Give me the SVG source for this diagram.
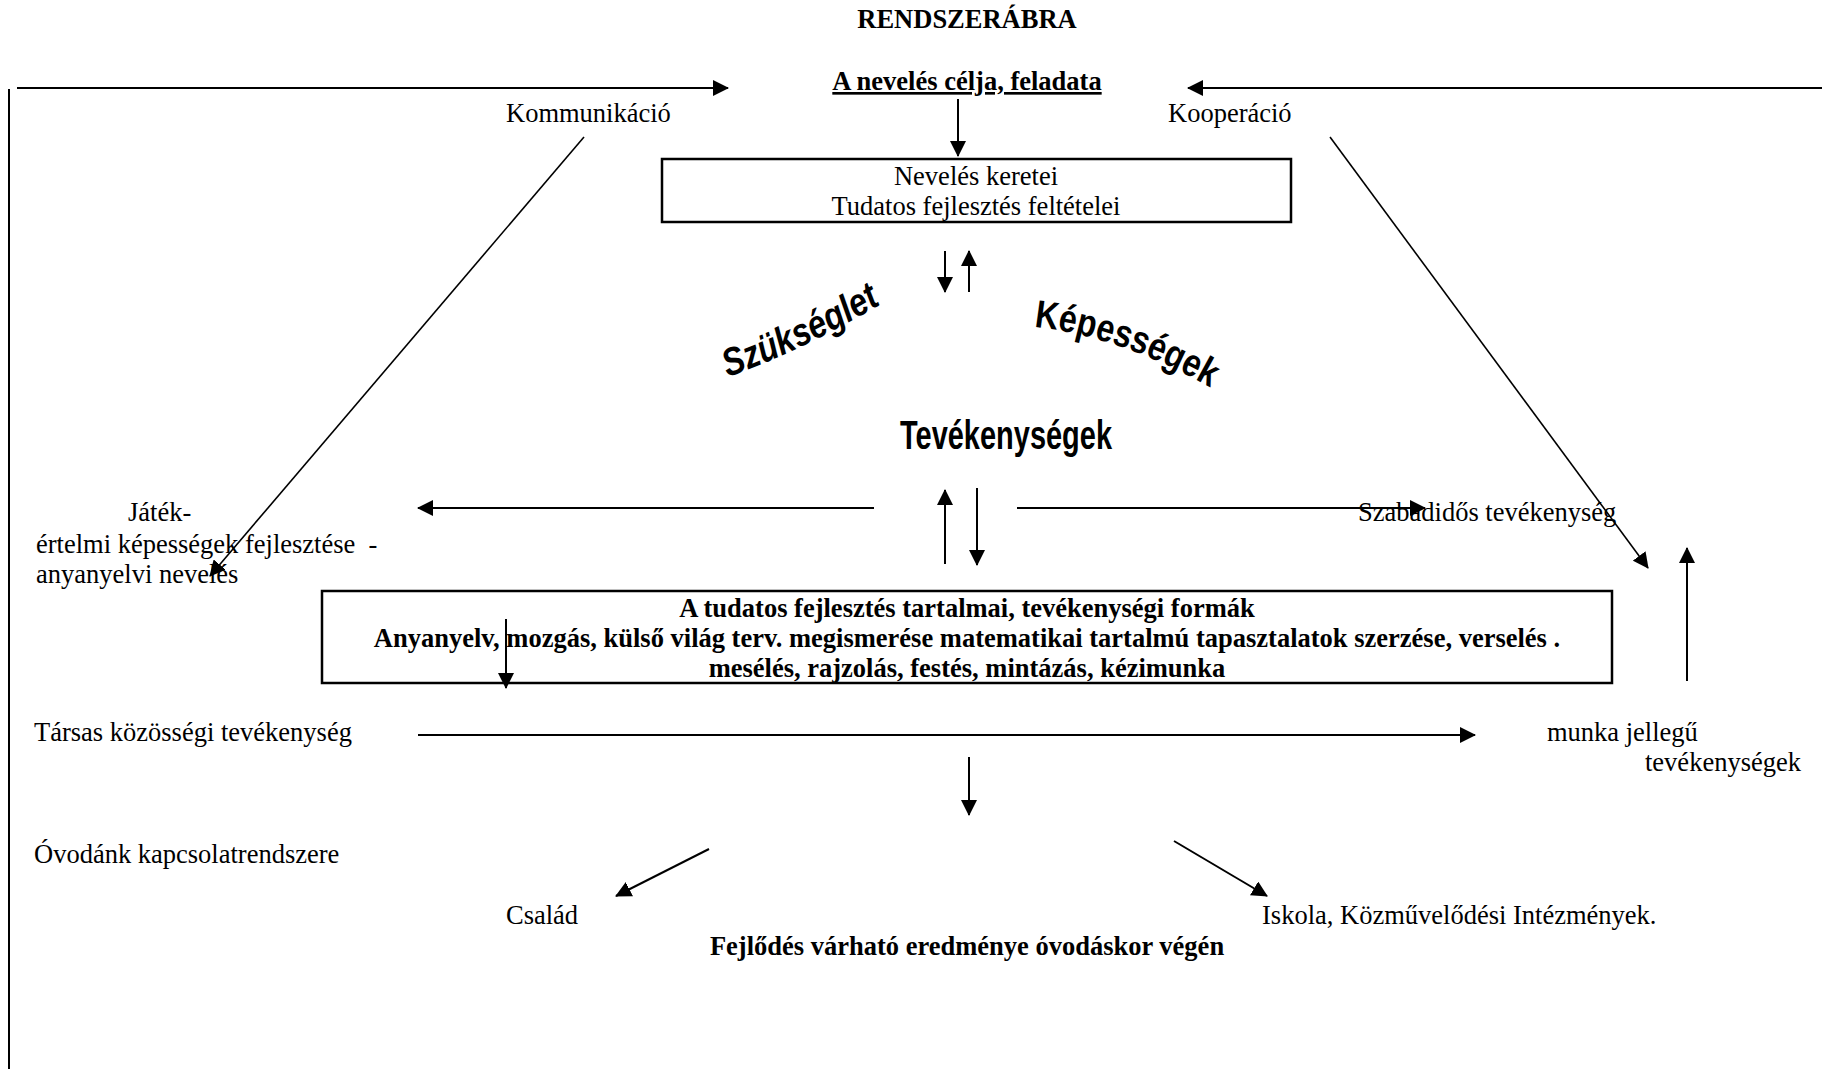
<svg xmlns="http://www.w3.org/2000/svg" width="1832" height="1069" viewBox="0 0 1832 1069">
<defs>
<marker id="ah" markerUnits="userSpaceOnUse" markerWidth="16" markerHeight="16" refX="15" refY="8" orient="auto">
<path d="M0,0 L16,8 L0,16 z" fill="#000"/>
</marker>
<path id="arcS" d="M728,377 Q804,350 888,300"/>
<path id="arcK" d="M1034,327 Q1122,336 1218,392"/>
</defs>
<style>
.t{font-family:"Liberation Serif","Times New Roman",serif;font-size:26.5px;fill:#000}
.b{font-weight:bold}
.m{text-anchor:middle}
.w{font-family:"Liberation Sans",Arial,sans-serif;font-weight:bold;fill:#000}
.ln{stroke:#000;stroke-width:2;fill:none}
.thin{stroke:#000;stroke-width:1.6;fill:none}
.arr{marker-end:url(#ah)}
.box{fill:#fff;stroke:#000;stroke-width:2.5}
</style>
<rect width="1832" height="1069" fill="#fff"/>

<g id="title"><text class="t b m" x="967" y="28">RENDSZERÁBRA</text></g>
<g id="cel"><text class="t b m" x="967" y="90" text-decoration="underline">A nevelés célja, feladata</text></g>
<g id="kommunikacio"><text class="t" x="506" y="122">Kommunikáció</text></g>
<g id="kooperacio"><text class="t" x="1168" y="122">Kooperáció</text></g>

<g id="keretek">
<rect class="box" x="662" y="159" width="629" height="63"/>
<text class="t m" x="976" y="185">Nevelés keretei</text>
<text class="t m" x="976" y="215">Tudatos fejlesztés feltételei</text>
</g>

<g id="szukseglet"><text class="w" font-size="39" font-style="italic"><textPath href="#arcS" textLength="170" lengthAdjust="spacingAndGlyphs">Szükséglet</textPath></text></g>
<g id="kepessegek"><text class="w" font-size="39"><textPath href="#arcK" textLength="188" lengthAdjust="spacingAndGlyphs">Képességek</textPath></text></g>
<g id="tevekenysegek"><text class="w" font-size="40" x="900" y="449" textLength="212" lengthAdjust="spacingAndGlyphs">Tevékenységek</text></g>

<g id="jatek">
<text class="t" x="128" y="521">Játék-</text>
<text class="t" x="36" y="553" xml:space="preserve">értelmi képességek fejlesztése  -</text>
<text class="t" x="36" y="583">anyanyelvi nevelés</text>
</g>
<g id="szabadido"><text class="t" x="1358" y="521">Szabadidős tevékenység</text></g>

<g id="tartalmak">
<rect class="box" x="322" y="591" width="1290" height="92"/>
<text class="t b m" x="967" y="617">A tudatos fejlesztés tartalmai, tevékenységi formák</text>
<text class="t b m" x="967" y="647">Anyanyelv, mozgás, külső világ terv. megismerése matematikai tartalmú tapasztalatok szerzése, verselés .</text>
<text class="t b m" x="967" y="677">mesélés, rajzolás, festés, mintázás, kézimunka</text>
</g>

<g id="tarsas"><text class="t" x="34" y="741">Társas közösségi tevékenység</text></g>
<g id="munka">
<text class="t" x="1547" y="741">munka jellegű</text>
<text class="t" x="1645" y="771">tevékenységek</text>
</g>
<g id="kapcsolat"><text class="t" x="34" y="863">Óvodánk kapcsolatrendszere</text></g>
<g id="csalad"><text class="t" x="506" y="924">Család</text></g>
<g id="iskola"><text class="t" x="1262" y="924">Iskola, Közművelődési Intézmények.</text></g>
<g id="eredmeny"><text class="t b m" x="967" y="955">Fejlődés várható eredménye óvodáskor végén</text></g>

<g id="connectors">
<line class="ln" x1="9" y1="89" x2="9" y2="1069"/>
<line class="ln arr" x1="17" y1="88" x2="728" y2="88"/>
<line class="ln arr" x1="1822" y1="88" x2="1188" y2="88"/>
<line class="ln arr" x1="958" y1="99" x2="958" y2="156"/>
<line class="ln arr" x1="945" y1="251" x2="945" y2="292"/>
<line class="ln arr" x1="969" y1="292" x2="969" y2="251"/>
<line class="ln arr" x1="874" y1="508" x2="418" y2="508"/>
<line class="ln arr" x1="1017" y1="508" x2="1425" y2="508"/>
<line class="ln arr" x1="945" y1="564" x2="945" y2="490"/>
<line class="ln arr" x1="977" y1="488" x2="977" y2="565"/>
<line class="thin arr" x1="584" y1="137" x2="210" y2="576"/>
<line class="thin arr" x1="1330" y1="137" x2="1648" y2="568"/>
<line class="ln arr" x1="1687" y1="681" x2="1687" y2="548"/>
<line class="ln arr" x1="506" y1="619" x2="506" y2="688"/>
<line class="ln arr" x1="418" y1="735" x2="1475" y2="735"/>
<line class="ln arr" x1="969" y1="757" x2="969" y2="815"/>
<line class="ln arr" x1="709" y1="849" x2="616" y2="896"/>
<line class="ln arr" x1="1174" y1="841" x2="1267" y2="896"/>
</g>
</svg>
